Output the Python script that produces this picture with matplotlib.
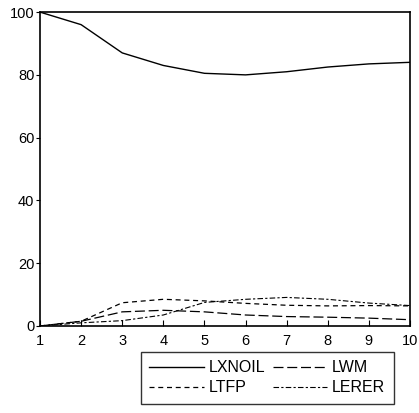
import matplotlib
matplotlib.use('Agg')
import matplotlib.pyplot as plt

plt.rcParams['font.family'] = ['Liberation Sans', 'DejaVu Sans']

periods = [1, 2, 3, 4, 5, 6, 7, 8, 9, 10]
lxnoil = [100.0, 96.0, 87.0, 83.0, 80.5, 80.0, 81.0, 82.5, 83.5, 84.0]
lwm = [0.0, 1.5, 4.5, 5.0, 4.5, 3.5, 3.0, 2.8, 2.5, 2.0]
ltfp = [0.0, 1.5, 7.4, 8.5, 8.0, 7.2, 6.6, 6.4, 6.5, 6.4]
lerer = [0.0, 1.0, 1.7, 3.5, 7.5, 8.5, 9.1, 8.5, 7.3, 6.5]

fig = plt.figure(figsize=(4.19, 4.13), dpi=100)
ax = fig.add_axes([0.0955, 0.2107, 0.883, 0.760])

ax.plot(periods, lxnoil, color='black', lw=1.0, ls='-', label='LXNOIL')
ax.plot(periods, ltfp, color='black', lw=0.9, ls=(0, (4, 3)), label='LTFP')
ax.plot(periods, lwm, color='black', lw=0.9, ls=(0, (8, 3)), label='LWM')
ax.plot(periods, lerer, color='black', lw=0.8, ls=(0, (5, 2, 2, 2)), label='LERER')

ax.set_xlim(1, 10)
ax.set_ylim(0, 100)
ax.set_xticks(periods)
ax.set_yticks([0, 20, 40, 60, 80, 100])
ax.tick_params(axis='x', direction='in', length=4, labelsize=10.5, pad=6)
ax.tick_params(axis='y', direction='out', length=3, labelsize=10.5, pad=1)
for s in ax.spines.values():
    s.set_linewidth(1.2)

handles, labels = ax.get_legend_handles_labels()
leg = fig.legend(handles, labels,
                 loc='center', bbox_to_anchor=(0.638, 0.085), ncol=2,
                 fontsize=11.5, frameon=True, fancybox=False, edgecolor='black',
                 handlelength=3.4, handletextpad=0.3, columnspacing=0.5,
                 labelspacing=0.3, borderpad=0.55)
leg.get_frame().set_linewidth(1.0)

fig.savefig('out.png', dpi=100)
